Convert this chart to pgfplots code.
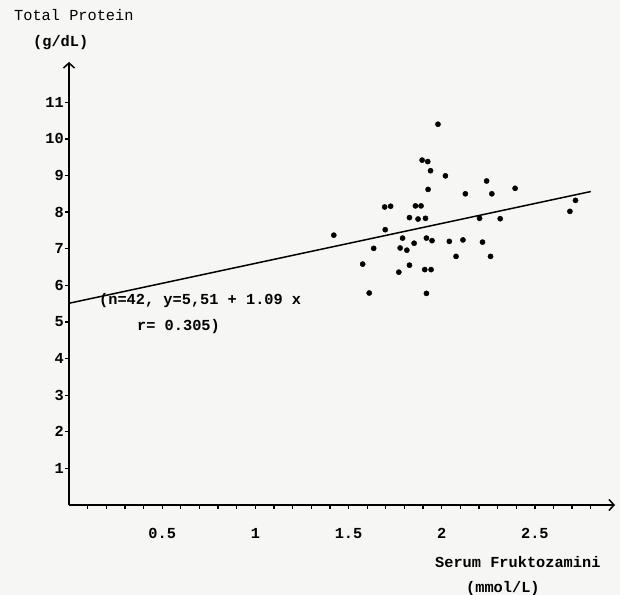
\documentclass[border=0pt]{standalone}
\usepackage{pgfplots}
\pgfplotsset{compat=1.18}
\usetikzlibrary{arrows.meta}
\usepackage{fontspec}
\setmainfont{Liberation Mono}
\definecolor{paper}{rgb}{0.965,0.965,0.955}
\begin{document}
\fontsize{15.3bp}{18bp}\selectfont
\begin{tikzpicture}
\fill[paper] (-69bp,-90bp) rectangle (551bp,505bp);
\begin{axis}[
  at={(0,0)}, anchor=origin,
  scale only axis, width=546bp, height=443bp,
  xmin=0, xmax=2.93, ymin=0, ymax=12.1,
  axis lines=left,
  axis line style={line width=1.5pt, -{Straight Barb[length=5bp,width=11bp]}},
  xtick={0.5,1,1.5,2,2.5},
  xticklabels={0.5,1,1.5,2,2.5},
  minor xtick={0.1,0.2,0.3,0.4,0.6,0.7,0.8,0.9,1.1,1.2,1.3,1.4,1.6,1.7,1.8,1.9,2.1,2.2,2.3,2.4,2.6,2.7,2.8},
  ytick={1,2,...,11},
  yticklabels={1,2,3,4,5,6,7,8,9,10,11},
  tick align=outside,
  major tick length=4bp, minor tick length=4bp,
  tick style={line width=1.3pt, black},
  xticklabel style={font=\fontsize{15.3bp}{18bp}\selectfont\bfseries, yshift=-14bp},
  yticklabel style={font=\fontsize{15.3bp}{18bp}\selectfont\bfseries, inner xsep=1bp},
  clip=false,
]
\addplot[only marks, mark=*, mark size=2.6bp, black] coordinates {
(1.980,10.40) (1.895,9.42) (1.925,9.38) (1.940,9.13) (2.020,8.99)
(2.241,8.85) (2.394,8.65) (1.927,8.62) (2.127,8.50) (2.269,8.50)
(2.718,8.32) (2.688,8.02) (1.694,8.14) (1.726,8.16) (1.859,8.17)
(1.889,8.17) (1.827,7.85) (1.873,7.81) (1.913,7.83) (2.203,7.83)
(2.314,7.82) (1.697,7.52) (1.421,7.37) (1.790,7.29) (1.918,7.29)
(1.948,7.22) (2.041,7.20) (2.114,7.24) (2.219,7.18) (1.852,7.15)
(1.635,7.01) (1.777,7.02) (1.813,6.96) (2.077,6.79) (2.262,6.79)
(1.576,6.58) (1.827,6.55) (1.770,6.36) (1.909,6.43) (1.943,6.43)
(1.611,5.79) (1.918,5.78)
};
\addplot[black, line width=1.5pt] coordinates {(0,5.51) (2.8,8.562)};
\end{axis}
\node[anchor=west, inner sep=0pt] at (-55bp,490bp) {Total Protein};
\node[anchor=west, inner sep=0pt] at (-36bp,462bp) {\textbf{(g/dL)}};
\node[anchor=west, inner sep=0pt] at (30bp,204bp) {\textbf{(n=42, y=5,51 + 1.09 x}};
\node[anchor=west, inner sep=0pt] at (68bp,178bp) {\textbf{r= 0.305)}};
\node[anchor=west, inner sep=0pt] at (366bp,-57bp) {\textbf{Serum Fruktozamini}};
\node[anchor=west, inner sep=0pt] at (397bp,-84bp) {\textbf{(mmol/L)}};
\pgfresetboundingbox
\path (-69bp,-90bp) rectangle (551bp,505bp);
\end{tikzpicture}
\end{document}
